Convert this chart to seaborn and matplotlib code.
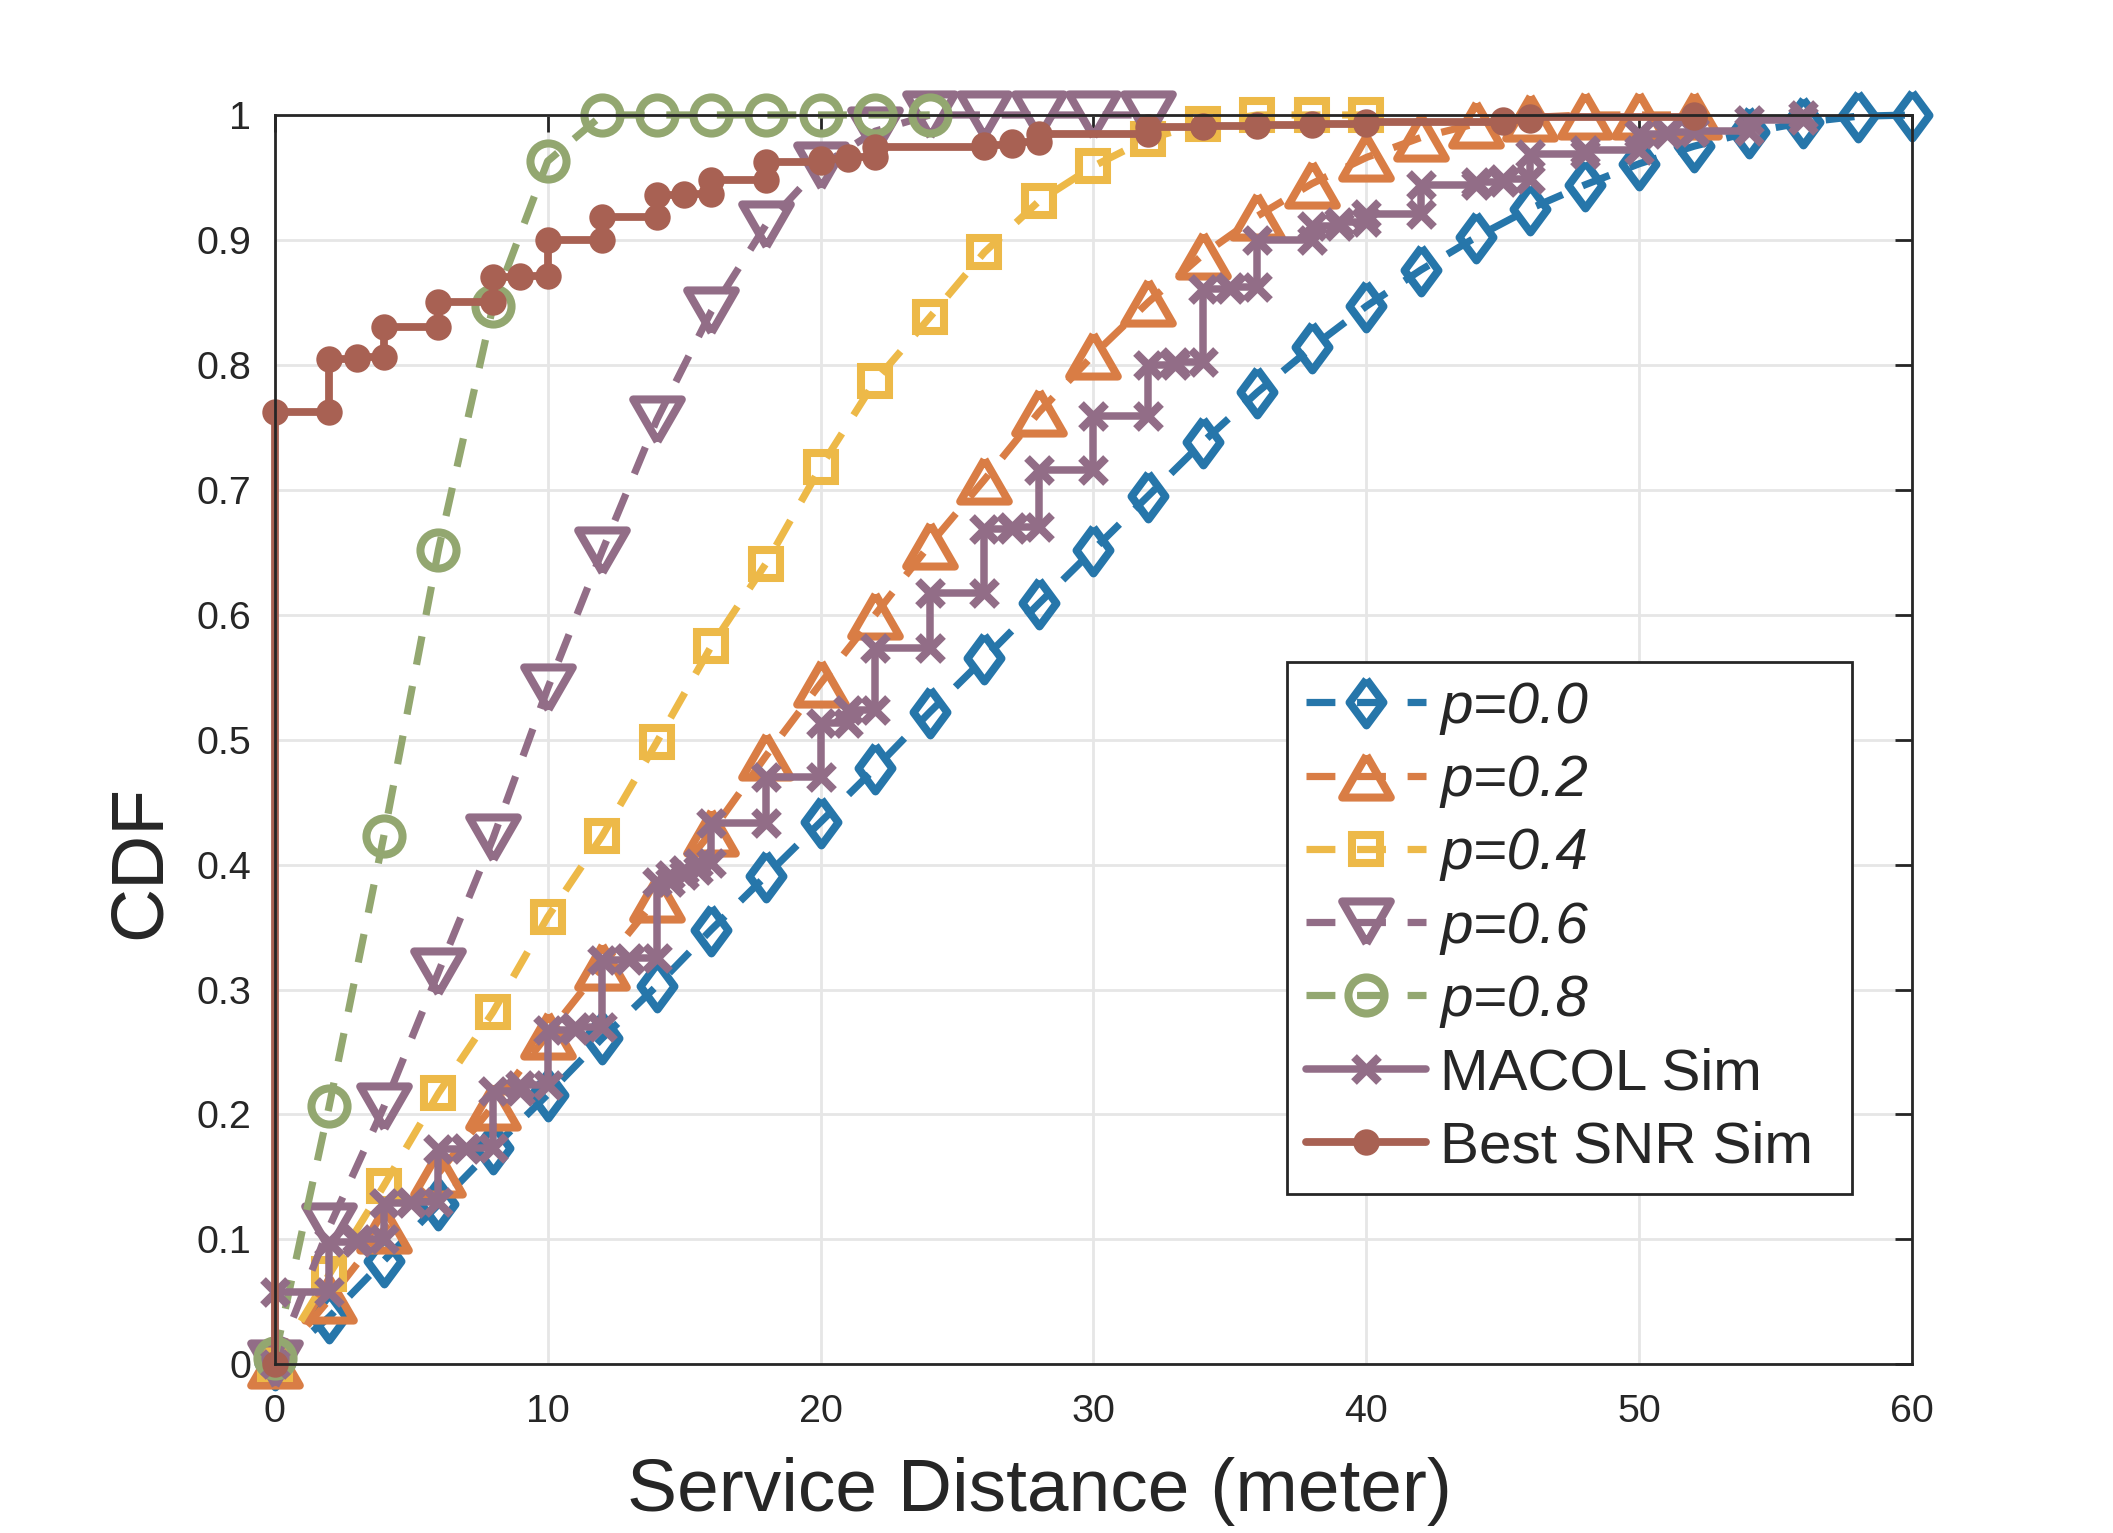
import numpy as np
import seaborn as sns
import matplotlib.pyplot as plt

# --- data ---
# analytic curves, sampled every 2 m
dist_grid = [0, 2, 4, 6, 8, 10, 12, 14, 16, 18, 20, 22, 24, 26, 28, 30,
             32, 34, 36, 38, 40, 42, 44, 46, 48, 50, 52, 54, 56, 58, 60]

cdf_p00 = [0, 0.038, 0.083, 0.128, 0.173, 0.216, 0.261, 0.303, 0.348, 0.391,
           0.434, 0.477, 0.522, 0.565, 0.609, 0.652, 0.695, 0.738, 0.778, 0.814,
           0.847, 0.876, 0.902, 0.925, 0.944, 0.961, 0.975, 0.986, 0.994, 0.999, 1.0]
cdf_p02 = [0, 0.052, 0.108, 0.153, 0.207, 0.264, 0.319, 0.373, 0.426, 0.487,
           0.545, 0.600, 0.656, 0.708, 0.762, 0.808, 0.850, 0.888, 0.919, 0.945,
           0.966, 0.982, 0.993, 0.998, 1.0, 1.0, 1.0]
cdf_p04 = [0, 0.072, 0.143, 0.217, 0.282, 0.358, 0.423, 0.498, 0.575, 0.641,
           0.718, 0.787, 0.838, 0.890, 0.931, 0.959, 0.981, 0.993, 1.0, 1.0, 1.0]
cdf_p06 = [0, 0.110, 0.206, 0.314, 0.421, 0.541, 0.651, 0.756, 0.843, 0.912,
           0.959, 0.987, 1.0, 1.0, 1.0, 1.0, 1.0]
cdf_p08 = [0.005, 0.207, 0.423, 0.652, 0.847, 0.963, 1.0, 1.0, 1.0, 1.0, 1.0, 1.0, 1.0]

# simulated empirical CDFs: jump positions and CDF value after each jump
macol_x = [0, 2, 3, 4, 5, 6, 7, 8, 9, 10, 11, 12, 13, 14, 14.5, 15, 15.5, 16, 18, 20,
           21, 22, 24, 26, 27, 28, 30, 32, 33, 34, 35, 36, 38, 39, 40, 42, 44, 45, 46, 48,
           50, 51, 52, 54, 56]
macol_f = [0.058, 0.098, 0.100, 0.129, 0.130, 0.172, 0.173, 0.219, 0.224, 0.268,
           0.270, 0.324, 0.325, 0.386, 0.392, 0.396, 0.401, 0.433, 0.470, 0.513,
           0.524, 0.573, 0.617, 0.669, 0.670, 0.716, 0.759, 0.800, 0.802, 0.861,
           0.862, 0.900, 0.911, 0.914, 0.921, 0.944, 0.946, 0.949, 0.969, 0.972,
           0.985, 0.986, 0.987, 0.996, 1.0]

snr_x = [0, 2, 3, 4, 6, 8, 9, 10, 12, 14, 15, 16, 18, 20, 21, 22, 26, 27, 28,
         32, 34, 36, 38, 40, 45, 46, 52]
snr_f = [0.762, 0.805, 0.806, 0.830, 0.850, 0.870, 0.871, 0.900, 0.918, 0.936,
         0.937, 0.948, 0.962, 0.965, 0.966, 0.974, 0.976, 0.978, 0.985, 0.990,
         0.991, 0.992, 0.993, 0.994, 0.996, 0.998, 1.0]

labels_p = ['p=0.0', 'p=0.2', 'p=0.4', 'p=0.6', 'p=0.8']
x_ticks = [0, 10, 20, 30, 40, 50, 60]
y_ticks = [0, 0.1, 0.2, 0.3, 0.4, 0.5, 0.6, 0.7, 0.8, 0.9, 1.0]
y_ticklabels = ['0', '0.1', '0.2', '0.3', '0.4', '0.5', '0.6', '0.7', '0.8', '0.9', '1']

# --- colours / markers (matlab-like look) ---
c_blue = '#2676AA'
c_orange = '#D97D45'
c_yellow = '#EDB948'
c_purple = '#926D87'
c_green = '#93A770'
c_brown = '#A86153'

diamond = np.array([(0, 1), (0.74, 0), (0, -1), (-0.74, 0), (0, 1)])
tri_up = np.array([(0, 0.866), (1, -0.866), (-1, -0.866), (0, 0.866)])
tri_down = np.array([(0, -0.866), (1, 0.866), (-1, 0.866), (0, -0.866)])


def stair_points(x, f):
    # cdfplot style: a vertex at the bottom and top of every jump
    xs = np.repeat(np.asarray(x, float), 2)
    ys = np.concatenate([[0.0], np.repeat(np.asarray(f, float), 2)[:-1]])
    return xs, ys


sns.set_style("whitegrid")
plt.rcParams['font.family'] = ['Liberation Sans', 'DejaVu Sans']

fig = plt.figure(figsize=(10.565, 7.665), dpi=200)
ax = fig.add_axes([0.13, 0.11, 0.775, 0.815])

dash = (0, (4.0, 3.0))
theory = [
    (cdf_p00, c_blue, diamond, 16.5),
    (cdf_p02, c_orange, tri_up, 17.5),
    (cdf_p04, c_yellow, 's', 10.2),
    (cdf_p06, c_purple, tri_down, 17.5),
    (cdf_p08, c_green, 'o', 13),
]
for (vals, col, mk, ms), lab in zip(theory, labels_p):
    sns.lineplot(x=dist_grid[:len(vals)], y=vals, ax=ax, estimator=None, sort=False,
                 color=col, lw=2.6, linestyle=dash, marker=mk, markersize=ms,
                 mfc='none', mec=col, mew=2.9, label=lab, clip_on=False)

mx, my = stair_points(macol_x, macol_f)
sns.lineplot(x=mx, y=my, ax=ax, estimator=None, sort=False, color=c_purple, lw=2.7,
             marker='x', markersize=9, mec=c_purple, mew=2.9,
             label='MACOL Sim', clip_on=False)

bx, by = stair_points(snr_x, snr_f)
sns.lineplot(x=bx, y=by, ax=ax, estimator=None, sort=False, color=c_brown, lw=2.8,
             marker='o', markersize=8.5, mfc=c_brown, mec=c_brown, mew=1,
             label='Best SNR Sim', clip_on=False)

ax.set_xlim(0, 60)
ax.set_ylim(0, 1)
ax.set_xticks(x_ticks)
ax.set_yticks(y_ticks)
ax.set_yticklabels(y_ticklabels)
ax.grid(True, color='#e6e6e6', lw=1.0)
ax.set_axisbelow(True)
for sp in ax.spines.values():
    sp.set_visible(True)
    sp.set_color('#262626')
    sp.set_linewidth(1.0)
ax.tick_params(direction='in', length=6, width=1, top=True, right=True,
               colors='#262626', labelsize=14.2)
ax.tick_params(axis='x', pad=10.5)
ax.tick_params(axis='y', pad=8.5)

ax.set_xlabel('Service Distance (meter)', fontsize=27, color='#262626')
ax.xaxis.set_label_coords(0.467, -0.074)
ax.set_ylabel('CDF', fontsize=27, color='#262626')
ax.yaxis.set_label_coords(-0.061, 0.402)

leg = ax.legend(loc='upper left', bbox_to_anchor=(0.618, 0.139, 0.345, 0.4235),
                mode='expand', borderaxespad=0, fontsize=21, handlelength=2.05,
                handletextpad=0.25, labelspacing=0.33, borderpad=0.33,
                frameon=True, fancybox=False, framealpha=1, edgecolor='#262626')
leg.get_frame().set_linewidth(1.0)
for t in leg.get_texts()[:5]:
    t.set_fontstyle('italic')

fig.savefig('out.png', dpi=200)
